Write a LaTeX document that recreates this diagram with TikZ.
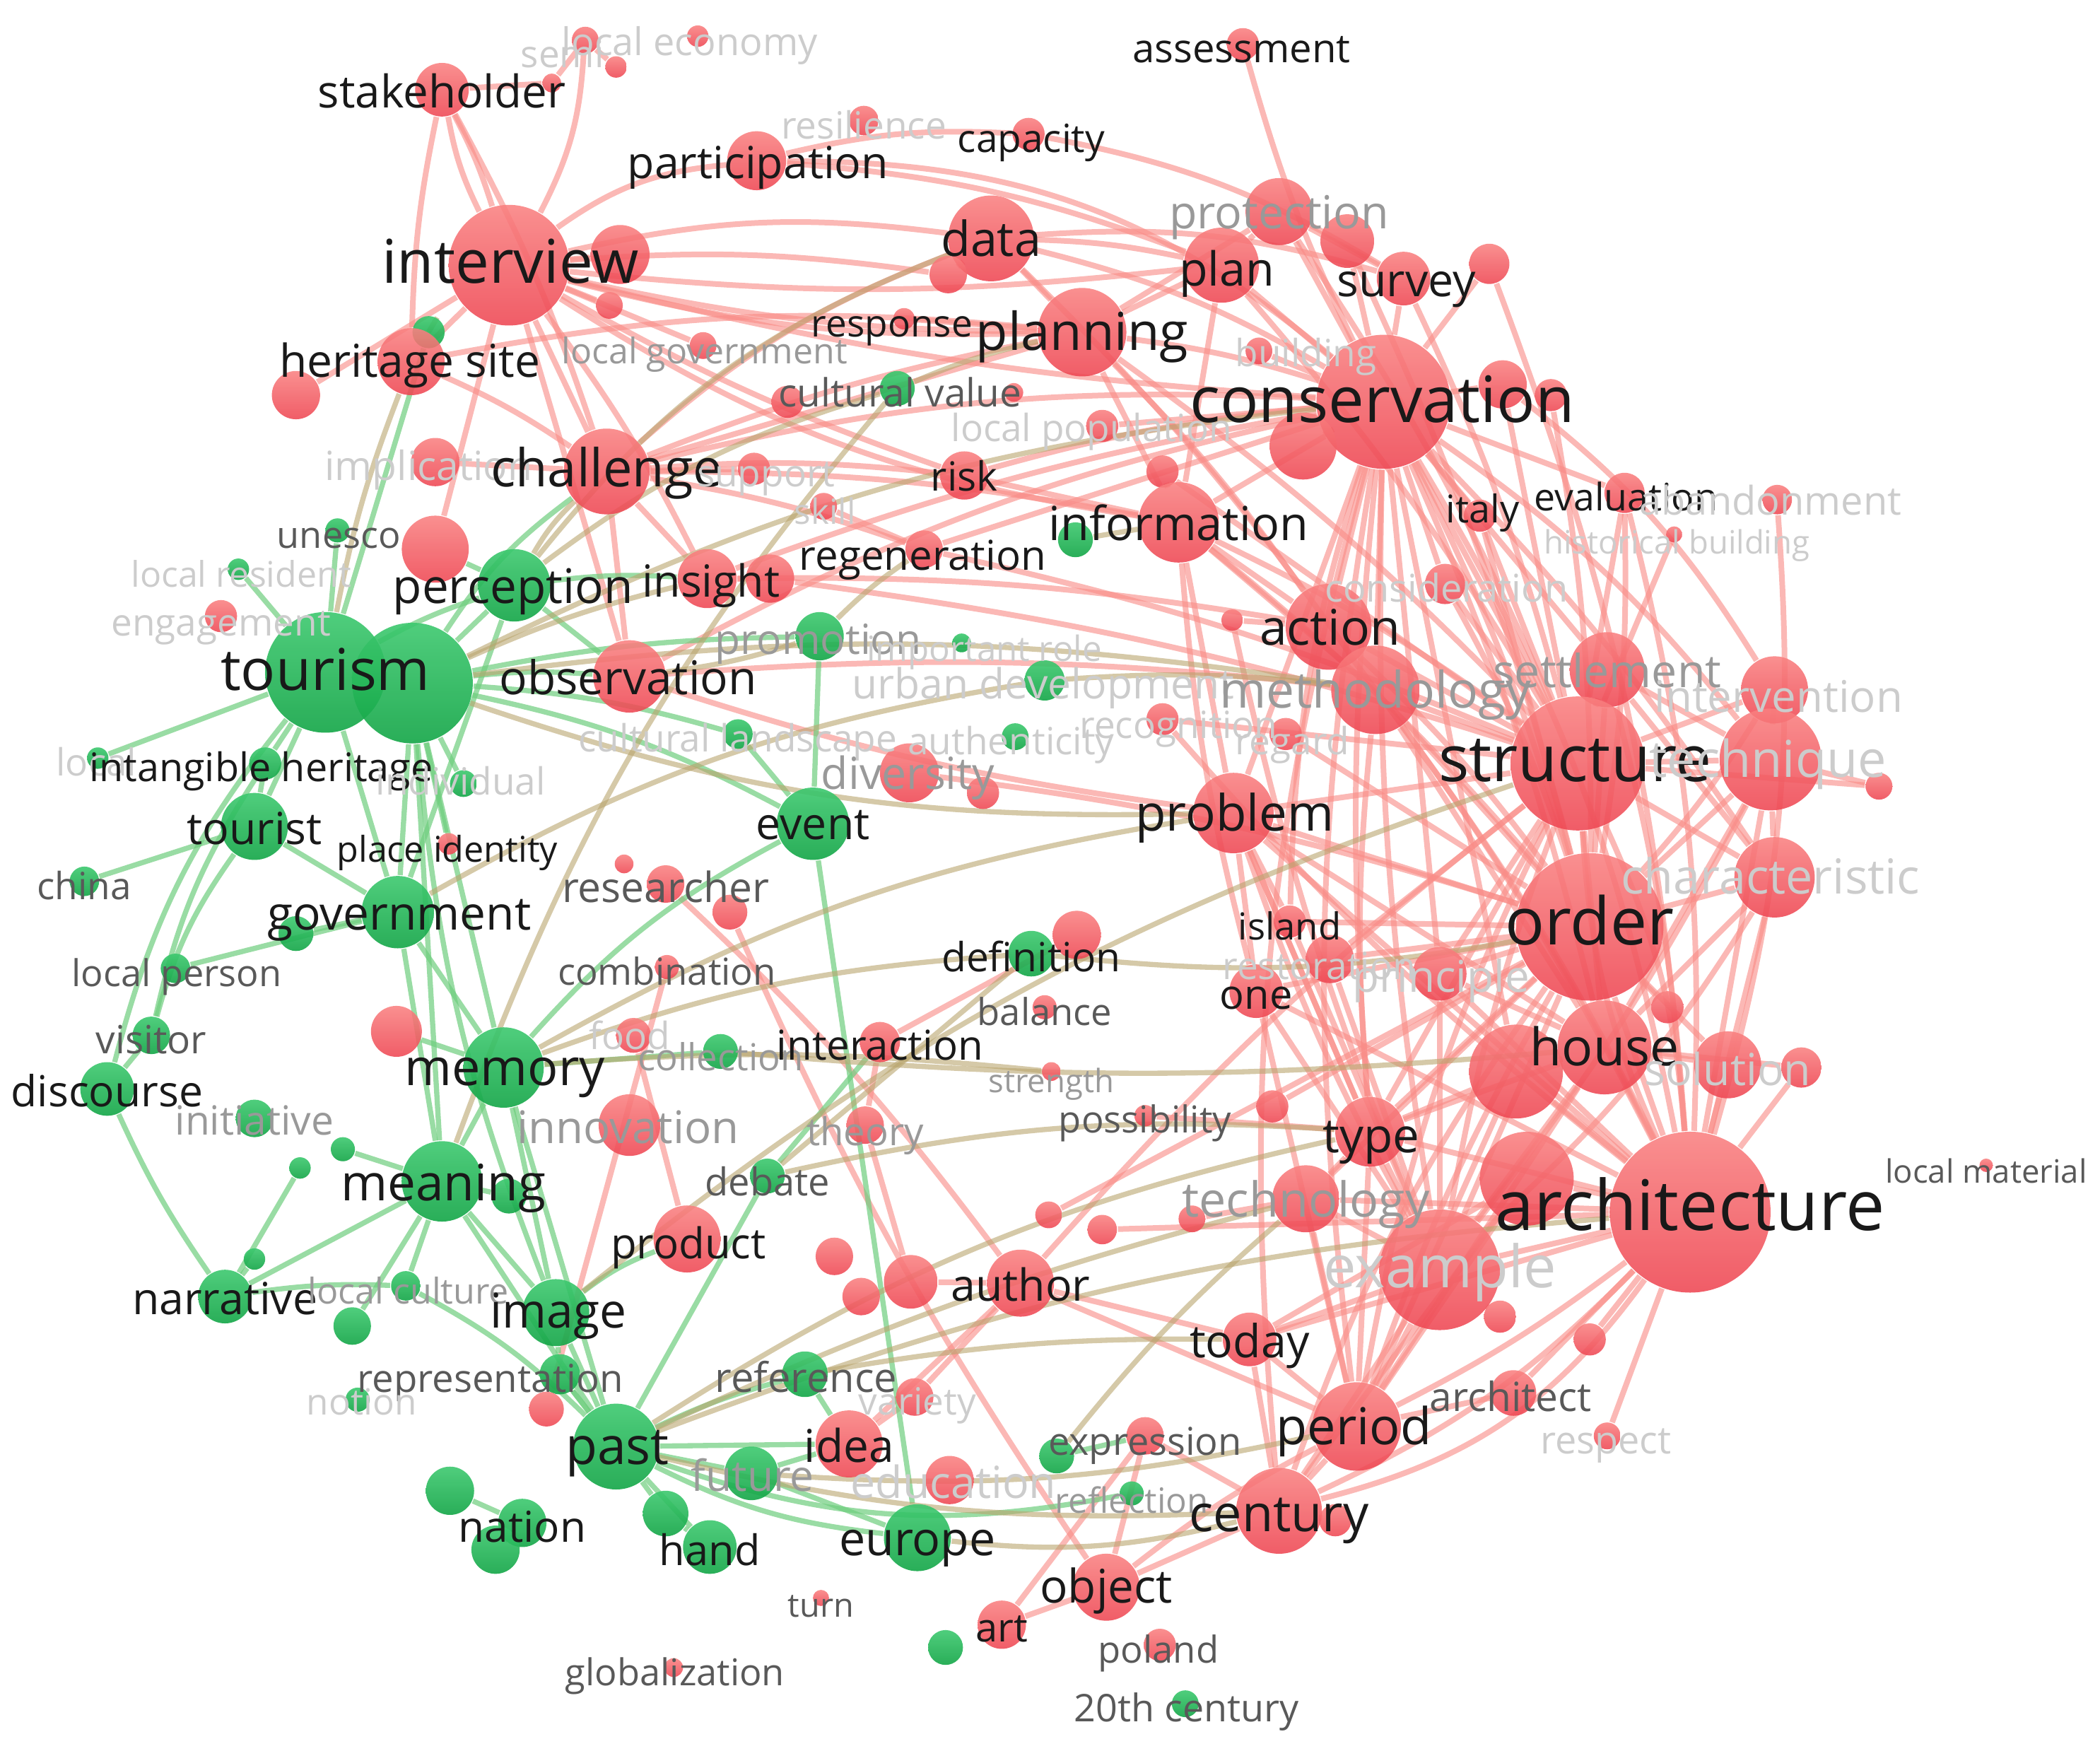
\documentclass[tikz,border=0pt]{standalone}
\usepackage{fontspec}
\setmainfont{Open Sans}
\pgfdeclarelayer{edges}
\pgfdeclarelayer{labels}
\pgfsetlayers{edges,main,labels}
\definecolor{nred}{RGB}{243,88,93}
\definecolor{nredt}{RGB}{249,128,128}
\definecolor{nredb}{RGB}{238,70,82}
\definecolor{ngreen}{RGB}{25,178,80}
\definecolor{ngreent}{RGB}{60,200,110}
\definecolor{ngreenb}{RGB}{18,165,70}
\definecolor{ered}{RGB}{249,140,135}
\definecolor{egreen}{RGB}{110,205,125}
\definecolor{emix}{RGB}{185,165,110}
\tikzset{
  rn/.style={circle,inner sep=0,draw=none,top color=nredt,bottom color=nredb,fill opacity=0.88,minimum size=#1*0.02cm},
  gn/.style={circle,inner sep=0,draw=none,top color=ngreent,bottom color=ngreenb,fill opacity=0.9,minimum size=#1*0.02cm},
  er/.style={draw=ered,line width=1.2pt,opacity=0.62},
  eg/.style={draw=egreen,line width=1.1pt,opacity=0.7},
  em/.style={draw=emix,line width=1.1pt,opacity=0.6},
  lab/.style={inner sep=0,text height=0.7em,text depth=0.16em,yshift=-0.04cm},
  fs/.style={font=\fontsize{#1}{#1}\selectfont},
  lk/.style={lab,text=black!90},
  ld/.style={lab,text=black!65},
  lg/.style={lab,text=black!40},
  lf/.style={lab,text=black!20},
}
\begin{document}
\begin{tikzpicture}[x=0.01cm,y=-0.01cm]
\useasboundingbox (0,0) rectangle (1568,1298);
% ---------------- nodes ----------------
\node[rn=20] (stk) at (330,67) {};
\node[rn=10] (semi) at (437,30) {};
\node[rn=8] (semi2) at (460,50) {};
\node[rn=7] (semi3) at (412,62) {};
\node[rn=8] (leco) at (521,27) {};
\node[rn=45] (intv) at (380,198) {};
\node[rn=22] (intv2) at (463,190) {};
\node[rn=10] (intv3) at (455,228) {};
\node[gn=12] (hsg) at (320,248) {};
\node[rn=25] (hsite) at (307,270) {};
\node[rn=18] (hs2) at (221,295) {};
\node[rn=22] (part) at (565,120) {};
\node[rn=11] (resil) at (645,90) {};
\node[rn=12] (capa) at (768,100) {};
\node[rn=12] (assess) at (928,33) {};
\node[rn=32] (data) at (740,178) {};
\node[rn=14] (data2) at (708,205) {};
\node[rn=25] (prot) at (955,158) {};
\node[rn=20] (prot2) at (1006,180) {};
\node[rn=28] (plan) at (912,198) {};
\node[rn=20] (surv) at (1048,208) {};
\node[rn=15] (surv2) at (1112,197) {};
\node[rn=33] (plng) at (808,248) {};
\node[rn=8] (resp) at (675,238) {};
\node[rn=10] (lgov) at (525,258) {};
\node[rn=10] (bldg) at (940,262) {};
\node[gn=13] (cval) at (670,290) {};
\node[rn=12] (cv2) at (588,300) {};
\node[rn=7] (cv3) at (757,293) {};
\node[rn=12] (lpop) at (823,318) {};
\node[rn=50] (cons) at (1033,300) {};
\node[rn=18] (cons2) at (1122,287) {};
\node[rn=12] (cons3) at (1158,295) {};
\node[rn=25] (cons4) at (973,333) {};
\node[rn=12] (info2) at (868,352) {};
\node[rn=18] (impl) at (325,345) {};
\node[rn=32] (chal) at (453,352) {};
\node[rn=12] (supp) at (563,350) {};
\node[rn=18] (risk) at (720,355) {};
\node[rn=10] (skill) at (615,378) {};
\node[rn=30] (info) at (880,390) {};
\node[gn=13] (infog) at (803,403) {};
\node[rn=12] (italy) at (1105,385) {};
\node[rn=15] (eval) at (1213,368) {};
\node[rn=11] (aband) at (1327,373) {};
\node[rn=6] (hbld) at (1250,399) {};
\node[gn=9] (unesco) at (252,396) {};
\node[gn=8] (lres) at (178,425) {};
\node[rn=12] (engag) at (165,460) {};
\node[rn=25] (persr) at (325,410) {};
\node[gn=27] (perc) at (384,437) {};
\node[rn=22] (ins) at (528,432) {};
\node[rn=18] (ins2) at (575,432) {};
\node[rn=14] (regen) at (690,410) {};
\node[rn=15] (consid) at (1079,436) {};
\node[rn=32] (action) at (992,468) {};
\node[rn=8] (act2) at (920,463) {};
\node[gn=45] (tour1) at (243,502) {};
\node[gn=45] (tour2) at (308,510) {};
\node[rn=27] (obs) at (470,505) {};
\node[gn=18] (promo) at (612,475) {};
\node[gn=7] (irole) at (718,480) {};
\node[gn=15] (udev) at (780,508) {};
\node[rn=33] (meth) at (1027,515) {};
\node[rn=28] (settle) at (1200,500) {};
\node[rn=25] (interv) at (1325,515) {};
\node[rn=12] (recog) at (868,537) {};
\node[rn=12] (regard) at (960,548) {};
\node[gn=11] (clands) at (551,548) {};
\node[gn=10] (auth) at (758,550) {};
\node[gn=8] (local) at (73,566) {};
\node[gn=12] (intang) at (198,570) {};
\node[gn=10] (indiv) at (346,585) {};
\node[rn=22] (divers) at (679,577) {};
\node[rn=12] (div2) at (734,592) {};
\node[rn=50] (struct) at (1178,570) {};
\node[rn=38] (tech) at (1322,567) {};
\node[rn=10] (tech2) at (1403,587) {};
\node[gn=25] (tourist) at (190,617) {};
\node[rn=8] (pid) at (335,630) {};
\node[gn=27] (event) at (607,615) {};
\node[rn=30] (prob) at (921,607) {};
\node[gn=11] (china) at (63,658) {};
\node[rn=14] (res1) at (497,660) {};
\node[rn=7] (res2) at (466,645) {};
\node[rn=13] (res3) at (545,681) {};
\node[gn=27] (gov) at (297,681) {};
\node[gn=13] (gov2) at (221,697) {};
\node[rn=30] (charac) at (1325,655) {};
\node[rn=12] (island) at (963,688) {};
\node[rn=55] (order) at (1187,692) {};
\node[gn=11] (lper) at (131,723) {};
\node[rn=9] (comb) at (498,722) {};
\node[gn=17] (defn) at (770,712) {};
\node[rn=18] (def2) at (804,698) {};
\node[rn=18] (reno) at (993,716) {};
\node[rn=20] (princ) at (1075,727) {};
\node[rn=20] (one) at (938,740) {};
\node[rn=9] (bal) at (780,752) {};
\node[rn=12] (p2) at (1245,752) {};
\node[gn=14] (visit) at (113,773) {};
\node[rn=19] (mr) at (296,770) {};
\node[gn=30] (mem) at (376,797) {};
\node[rn=13] (food) at (473,773) {};
\node[gn=13] (coll) at (538,785) {};
\node[rn=15] (inter) at (657,778) {};
\node[rn=7] (stren) at (785,800) {};
\node[rn=35] (house) at (1198,782) {};
\node[rn=35] (h2) at (1132,800) {};
\node[rn=25] (sol) at (1290,795) {};
\node[rn=15] (h3) at (1345,797) {};
\node[gn=20] (disc) at (80,813) {};
\node[gn=14] (init) at (190,835) {};
\node[rn=23] (innov) at (470,840) {};
\node[rn=14] (theory) at (646,840) {};
\node[rn=8] (poss) at (855,833) {};
\node[rn=12] (pos2) at (950,826) {};
\node[gn=9] (g1) at (256,858) {};
\node[gn=8] (g2) at (224,872) {};
\node[gn=30] (mean) at (330,882) {};
\node[gn=13] (mean2) at (380,893) {};
\node[rn=26] (type) at (1023,845) {};
\node[rn=5] (lmat) at (1483,870) {};
\node[gn=13] (deb) at (573,878) {};
\node[rn=25] (techn) at (975,895) {};
\node[rn=10] (tn2) at (890,910) {};
\node[rn=35] (ar2) at (1140,880) {};
\node[rn=60] (arch) at (1262,905) {};
\node[rn=10] (r1) at (783,907) {};
\node[rn=11] (r2) at (823,918) {};
\node[rn=25] (prod) at (513,925) {};
\node[rn=14] (r3) at (623,938) {};
\node[rn=20] (r4) at (680,957) {};
\node[rn=14] (r5) at (643,968) {};
\node[rn=45] (examp) at (1075,948) {};
\node[rn=12] (ex2) at (1120,983) {};
\node[gn=20] (narr) at (168,968) {};
\node[gn=8] (narr2) at (190,940) {};
\node[gn=11] (lcul) at (303,960) {};
\node[gn=25] (image) at (415,980) {};
\node[rn=25] (author) at (762,958) {};
\node[gn=14] (g3) at (263,990) {};
\node[rn=20] (today) at (933,1000) {};
\node[rn=12] (td2) at (1187,1000) {};
\node[gn=15] (repr) at (418,1026) {};
\node[gn=17] (ref) at (601,1026) {};
\node[gn=9] (notion) at (267,1045) {};
\node[rn=13] (r6) at (408,1052) {};
\node[rn=14] (variety) at (683,1043) {};
\node[rn=17] (archt) at (1130,1040) {};
\node[rn=10] (respect) at (1200,1072) {};
\node[rn=33] (period) at (1013,1065) {};
\node[gn=32] (past) at (460,1080) {};
\node[rn=25] (idea) at (634,1078) {};
\node[gn=20] (future) at (561,1100) {};
\node[rn=18] (educ) at (709,1105) {};
\node[rn=14] (expr) at (855,1072) {};
\node[gn=13] (exg) at (789,1087) {};
\node[gn=9] (refl) at (845,1115) {};
\node[rn=32] (cent) at (955,1128) {};
\node[rn=12] (cent2) at (997,1135) {};
\node[gn=18] (g4) at (336,1113) {};
\node[gn=18] (nation) at (390,1137) {};
\node[gn=18] (g5) at (370,1157) {};
\node[gn=17] (g6) at (497,1130) {};
\node[gn=20] (hand) at (530,1155) {};
\node[gn=25] (europe) at (685,1148) {};
\node[rn=6] (turn) at (613,1193) {};
\node[rn=25] (object) at (826,1185) {};
\node[rn=18] (art) at (748,1213) {};
\node[gn=13] (g7) at (706,1230) {};
\node[rn=12] (poland) at (866,1228) {};
\node[rn=7] (glob) at (503,1245) {};
\node[gn=10] (c20) at (885,1272) {};
% ---------------- edges ----------------
\begin{pgfonlayer}{edges}
\draw[er] (stk) to[bend left=5] (intv);
\draw[er] (stk) to[bend right=8] (intv);
\draw[er] (stk) to[bend right=5] (hsite);
\draw[er] (stk) to[bend left=5] (chal);
\draw[er] (stk) to (semi3);
\draw[er] (semi) to[bend left=12] (intv);
\draw[er] (semi) to (semi2);
\draw[er] (semi3) to (semi);
\draw[er] (intv) to[bend left=15] (part);
\draw[er] (intv) to[bend left=10] (data);
\draw[er] (intv) to[bend left=6] (data2);
\draw[er] (intv) to[bend right=8] (plng);
\draw[er] (intv) to[bend right=6] (plng);
\draw[er] (intv) to[bend right=5] (cons);
\draw[er] (intv) to[bend right=12] (info);
\draw[er] (intv) to (hsite);
\draw[er] (intv) to (hs2);
\draw[er] (intv) to (chal);
\draw[er] (intv) to (obs);
\draw[er] (intv) to[bend left=5] (ins);
\draw[er] (intv) to (intv2);
\draw[er] (intv) to (intv3);
\draw[er] (intv) to[bend right=5] (risk);
\draw[er] (intv) to (lgov);
\draw[er] (intv) to (persr);
\draw[er] (intv) to[bend right=6] (plan);
\draw[er] (part) to[bend left=8] (capa);
\draw[er] (part) to[bend left=20] (cons);
\draw[er] (part) to[bend left=8] (plan);
\draw[er] (capa) to[bend left=10] (surv);
\draw[er] (data) to (plng);
\draw[er] (data) to[bend left=5] (plan);
\draw[er] (data) to[bend left=8] (cons);
\draw[er] (data) to[bend left=5] (meth);
\draw[er] (data) to (data2);
\draw[er] (data) to[bend right=10] (chal);
\draw[er] (data) to[bend left=10] (surv);
\draw[er] (plng) to[bend left=5] (cons);
\draw[er] (plng) to (plan);
\draw[er] (plng) to (info);
\draw[er] (plng) to[bend right=5] (chal);
\draw[er] (plng) to[bend left=5] (action);
\draw[er] (plng) to[bend left=5] (struct);
\draw[er] (plng) to (prot);
\draw[er] (plan) to (cons);
\draw[er] (plan) to (prot);
\draw[er] (plan) to[bend left=5] (struct);
\draw[er] (plan) to (info);
\draw[er] (prot) to (cons);
\draw[er] (prot) to (surv);
\draw[er] (prot) to[bend left=5] (struct);
\draw[er] (prot2) to (cons);
\draw[er] (prot2) to[bend left=5] (order);
\draw[er] (surv) to (cons);
\draw[er] (surv) to[bend left=5] (struct);
\draw[er] (surv2) to (cons);
\draw[er] (surv2) to[bend left=8] (arch);
\draw[er] (assess) to[bend right=5] (cons);
\draw[er] (resp) to (plng);
\draw[er] (bldg) to (cons);
\draw[er] (lpop) to (cons);
\draw[er] (cons) to (struct);
\draw[er] (cons) to[bend left=5] (order);
\draw[er] (cons) to[bend left=10] (arch);
\draw[er] (cons) to[bend left=5] (house);
\draw[er] (cons) to (meth);
\draw[er] (cons) to (action);
\draw[er] (cons) to (info);
\draw[er] (cons) to[bend left=5] (charac);
\draw[er] (cons) to[bend left=8] (tech);
\draw[er] (cons) to (settle);
\draw[er] (cons) to (eval);
\draw[er] (cons) to (italy);
\draw[er] (cons) to (prob);
\draw[er] (cons) to[bend right=5] (type);
\draw[er] (cons) to[bend right=5] (examp);
\draw[er] (cons) to[bend right=8] (period);
\draw[er] (cons) to[bend right=10] (cent);
\draw[er] (cons) to (h2);
\draw[er] (cons) to (cons2);
\draw[er] (cons) to (cons4);
\draw[er] (cons) to (consid);
\draw[er] (cons) to[bend right=8] (island);
\draw[er] (cons) to (princ);
\draw[er] (cons2) to (struct);
\draw[er] (cons3) to[bend left=5] (order);
\draw[er] (cons2) to[bend left=10] (interv);
\draw[er] (eval) to (struct);
\draw[er] (eval) to[bend left=5] (order);
\draw[er] (eval) to[bend left=8] (arch);
\draw[er] (italy) to (order);
\draw[er] (italy) to (struct);
\draw[er] (aband) to[bend left=10] (arch);
\draw[er] (hbld) to (struct);
\draw[er] (chal) to[bend left=8] (cons);
\draw[er] (chal) to (plng);
\draw[er] (chal) to[bend left=5] (risk);
\draw[er] (chal) to[bend left=5] (info);
\draw[er] (chal) to (ins);
\draw[er] (chal) to (obs);
\draw[er] (chal) to[bend left=5] (regen);
\draw[er] (chal) to (supp);
\draw[er] (chal) to (impl);
\draw[er] (hsite) to[bend left=5] (chal);
\draw[er] (hsite) to[bend left=8] (plng);
\draw[er] (risk) to[bend left=5] (cons);
\draw[er] (risk) to (info);
\draw[er] (info) to (action);
\draw[er] (info) to (meth);
\draw[er] (info) to[bend left=5] (struct);
\draw[er] (info) to[bend left=5] (order);
\draw[er] (info) to (prob);
\draw[er] (info) to (info2);
\draw[er] (info) to[bend right=5] (one);
\draw[er] (action) to (meth);
\draw[er] (action) to (struct);
\draw[er] (action) to[bend left=5] (order);
\draw[er] (action) to[bend left=5] (arch);
\draw[er] (action) to (act2);
\draw[er] (meth) to (struct);
\draw[er] (meth) to (order);
\draw[er] (meth) to[bend left=5] (arch);
\draw[er] (meth) to (house);
\draw[er] (meth) to[bend right=5] (type);
\draw[er] (settle) to (struct);
\draw[er] (settle) to (order);
\draw[er] (settle) to (tech);
\draw[er] (settle) to[bend left=5] (arch);
\draw[er] (settle) to (charac);
\draw[er] (interv) to (struct);
\draw[er] (interv) to (tech);
\draw[er] (interv) to[bend left=5] (order);
\draw[er] (consid) to[bend left=5] (order);
\draw[er] (consid) to (struct);
\draw[er] (struct) to (order);
\draw[er] (struct) to[bend left=10] (arch);
\draw[er] (struct) to[bend right=10] (arch);
\draw[er] (struct) to (house);
\draw[er] (struct) to (tech);
\draw[er] (struct) to (charac);
\draw[er] (struct) to (type);
\draw[er] (struct) to[bend right=5] (examp);
\draw[er] (struct) to (prob);
\draw[er] (struct) to[bend right=8] (period);
\draw[er] (struct) to (tech2);
\draw[er] (struct) to (princ);
\draw[er] (struct) to (reno);
\draw[er] (order) to (arch);
\draw[er] (order) to (house);
\draw[er] (order) to (tech);
\draw[er] (order) to (charac);
\draw[er] (order) to (type);
\draw[er] (order) to (examp);
\draw[er] (order) to[bend right=5] (period);
\draw[er] (order) to[bend right=8] (cent);
\draw[er] (order) to (princ);
\draw[er] (order) to (one);
\draw[er] (order) to (island);
\draw[er] (order) to (reno);
\draw[er] (order) to (sol);
\draw[er] (order) to (techn);
\draw[er] (order) to (p2);
\draw[er] (house) to (arch);
\draw[er] (house) to (examp);
\draw[er] (house) to (type);
\draw[er] (house) to (h2);
\draw[er] (house) to (sol);
\draw[er] (house) to (h3);
\draw[er] (house) to (period);
\draw[er] (charac) to (arch);
\draw[er] (charac) to (house);
\draw[er] (charac) to[bend left=8] (examp);
\draw[er] (tech) to (arch);
\draw[er] (tech) to (house);
\draw[er] (tech) to (tech2);
\draw[er] (tech) to (charac);
\draw[er] (tech) to[bend left=5] (examp);
\draw[er] (arch) to (examp);
\draw[er] (arch) to (type);
\draw[er] (arch) to[bend left=5] (period);
\draw[er] (arch) to[bend left=10] (cent);
\draw[er] (arch) to (techn);
\draw[er] (arch) to (today);
\draw[er] (arch) to (archt);
\draw[er] (arch) to (respect);
\draw[er] (arch) to (h2);
\draw[er] (arch) to (ar2);
\draw[er] (arch) to (sol);
\draw[er] (arch) to (h3);
\draw[er] (arch) to (td2);
\draw[er] (arch) to (princ);
\draw[er] (arch) to (one);
\draw[er] (arch) to (prob);
\draw[er] (examp) to (period);
\draw[er] (examp) to (type);
\draw[er] (examp) to (techn);
\draw[er] (examp) to (today);
\draw[er] (examp) to (ex2);
\draw[er] (examp) to (cent);
\draw[er] (type) to (techn);
\draw[er] (type) to (period);
\draw[er] (type) to (h2);
\draw[er] (type) to (prob);
\draw[er] (techn) to (period);
\draw[er] (techn) to (tn2);
\draw[er] (prob) to (order);
\draw[er] (prob) to (island);
\draw[er] (prob) to (house);
\draw[er] (prob) to (type);
\draw[er] (prob) to[bend right=5] (examp);
\draw[er] (prob) to (one);
\draw[er] (island) to (examp);
\draw[er] (one) to (examp);
\draw[er] (one) to (period);
\draw[er] (reno) to (examp);
\draw[er] (princ) to (examp);
\draw[er] (princ) to (house);
\draw[er] (today) to (period);
\draw[er] (today) to (cent);
\draw[er] (today) to (ar2);
\draw[er] (period) to (cent);
\draw[er] (period) to (archt);
\draw[er] (period) to (h2);
\draw[er] (period) to (ar2);
\draw[er] (cent) to (object);
\draw[er] (cent) to (expr);
\draw[er] (cent) to (cent2);
\draw[er] (cent) to (ar2);
\draw[er] (cent) to[bend right=20] (arch);
\draw[er] (expr) to (object);
\draw[er] (expr) to (art);
\draw[er] (object) to[bend left=5] (period);
\draw[er] (pos2) to (order);
\draw[er] (poss) to (type);
\draw[er] (recog) to (struct);
\draw[er] (regard) to (order);
\draw[er] (recog) to[bend right=5] (arch);
\draw[er] (info2) to (struct);
\draw[er] (act2) to[bend right=5] (examp);
\draw[er] (obs) to[bend left=8] (cons);
\draw[er] (obs) to[bend left=5] (meth);
\draw[er] (obs) to[bend right=5] (prob);
\draw[er] (ins) to[bend left=5] (cons);
\draw[er] (ins) to[bend left=5] (action);
\draw[er] (ins) to (ins2);
\draw[er] (ins2) to[bend left=5] (struct);
\draw[er] (regen) to (cons);
\draw[er] (regen) to[bend left=5] (struct);
\draw[er] (skill) to (regen);
\draw[er] (divers) to[bend left=5] (order);
\draw[er] (author) to (period);
\draw[er] (author) to (today);
\draw[er] (author) to[bend left=5] (struct);
\draw[er] (author) to (idea);
\draw[er] (author) to (r4);
\draw[er] (res1) to[bend left=5] (author);
\draw[er] (res3) to[bend right=5] (object);
\draw[er] (inter) to (theory);
\draw[er] (theory) to (r4);
\draw[er] (r1) to (order);
\draw[er] (r2) to (arch);
\draw[er] (r6) to (comb);
\draw[er] (prod) to (food);
\draw[er] (idea) to (variety);
\draw[er] (variety) to (author);
\draw[er] (art) to (object);
\draw[er] (def2) to (inter);
\draw[eg] (tour1) to (tour2);
\draw[eg] (tour2) to (perc);
\draw[eg] (tour1) to[bend left=5] (perc);
\draw[eg] (tour1) to (tourist);
\draw[eg] (tour1) to (intang);
\draw[eg] (tour2) to (gov);
\draw[eg] (tour1) to (gov);
\draw[eg] (tour2) to (mem);
\draw[eg] (tour2) to (mean);
\draw[eg] (tour2) to[bend left=8] (event);
\draw[eg] (tour2) to[bend left=6] (clands);
\draw[eg] (tour1) to (unesco);
\draw[eg] (tour1) to (lres);
\draw[eg] (tour2) to[bend left=5] (promo);
\draw[eg] (tour2) to[bend left=5] (obs);
\draw[eg] (tour2) to (pid);
\draw[eg] (tour2) to (indiv);
\draw[eg] (tour1) to[bend left=5] (tour2);
\draw[eg] (tour2) to[bend right=8] (image);
\draw[eg] (tour2) to[bend left=10] (chal);
\draw[eg] (tour1) to[bend right=12] (disc);
\draw[eg] (tour1) to (local);
\draw[eg] (intang) to[bend right=10] (visit);
\draw[eg] (tourist) to (intang);
\draw[eg] (tourist) to (gov);
\draw[eg] (tourist) to[bend right=10] (visit);
\draw[eg] (gov) to (mem);
\draw[eg] (gov) to (lper);
\draw[eg] (gov) to (mean);
\draw[eg] (gov) to (gov2);
\draw[eg] (gov) to (perc);
\draw[eg] (mem) to (mean);
\draw[eg] (mem) to (image);
\draw[eg] (mem) to (past);
\draw[eg] (mem) to (coll);
\draw[eg] (mem) to (mr);
\draw[eg] (mem) to[bend left=10] (event);
\draw[eg] (mean) to (image);
\draw[eg] (mean) to (past);
\draw[eg] (mean) to (narr);
\draw[eg] (mean) to (lcul);
\draw[eg] (mean) to (mean2);
\draw[eg] (mean) to (g3);
\draw[eg] (mean) to (g1);
\draw[eg] (image) to (past);
\draw[eg] (image) to (repr);
\draw[eg] (image) to[bend left=8] (prod);
\draw[eg] (past) to (future);
\draw[eg] (past) to[bend right=10] (europe);
\draw[eg] (past) to (hand);
\draw[eg] (past) to[bend left=5] (ref);
\draw[eg] (past) to (idea);
\draw[eg] (past) to (repr);
\draw[eg] (past) to[bend right=15] (refl);
\draw[eg] (past) to (deb);
\draw[eg] (past) to (g6);
\draw[eg] (future) to (europe);
\draw[eg] (future) to (idea);
\draw[eg] (europe) to (event);
\draw[eg] (event) to (promo);
\draw[eg] (event) to (clands);
\draw[eg] (disc) to[bend right=5] (narr);
\draw[eg] (disc) to (visit);
\draw[eg] (narr) to[bend left=5] (lcul);
\draw[eg] (narr) to (narr2);
\draw[eg] (lcul) to[bend left=8] (past);
\draw[eg] (repr) to (past);
\draw[eg] (perc) to (obs);
\draw[eg] (perc) to (persr);
\draw[eg] (perc) to[bend left=5] (ins);
\draw[eg] (hsg) to (tour1);
\draw[eg] (ref) to (idea);
\draw[eg] (deb) to (inter);
\draw[eg] (exg) to (expr);
\draw[eg] (g4) to (nation);
\draw[eg] (nation) to (g5);
\draw[eg] (g6) to (hand);
\draw[eg] (narr) to (g2);
\draw[eg] (tourist) to (china);
\draw[em] (tour2) to[bend left=10] (cons);
\draw[em] (tour2) to[bend left=8] (meth);
\draw[em] (tour1) to[bend left=5] (hsite);
\draw[em] (tour2) to[bend left=5] (ins);
\draw[em] (tour2) to[bend right=10] (prob);
\draw[em] (perc) to[bend left=8] (chal);
\draw[em] (perc) to[bend left=10] (cval);
\draw[em] (perc) to[bend left=15] (data);
\draw[em] (mem) to[bend left=8] (defn);
\draw[em] (mem) to[bend left=10] (prob);
\draw[em] (mem) to[bend left=5] (stren);
\draw[em] (mean) to[bend left=10] (cval);
\draw[em] (past) to[bend left=8] (arch);
\draw[em] (past) to[bend right=8] (cent);
\draw[em] (past) to[bend left=10] (type);
\draw[em] (past) to[bend left=5] (techn);
\draw[em] (image) to[bend left=10] (struct);
\draw[em] (europe) to[bend right=10] (cent);
\draw[em] (future) to[bend right=8] (period);
\draw[em] (defn) to[bend right=8] (order);
\draw[em] (defn) to (deb);
\draw[em] (coll) to[bend right=5] (house);
\draw[em] (ref) to[bend left=5] (today);
\draw[em] (deb) to[bend left=8] (type);
\draw[em] (gov) to[bend left=10] (udev);
\draw[em] (obs) to[bend right=5] (promo);
\draw[em] (promo) to[bend left=5] (regen);
\draw[em] (cval) to[bend left=5] (plng);
\draw[em] (hsg) to (hsite);
\draw[em] (udev) to[bend left=5] (meth);
\draw[em] (infog) to (info);
\draw[em] (exg) to[bend left=5] (techn);
\end{pgfonlayer}
% ---------------- labels ----------------
\begin{pgfonlayer}{labels}
\node[lk,fs=9.56pt] (l-stk) at (330,67) {stakeholder};
\node[lf,fs=7.97pt] (l-semi) at (420,37) {semi};
\node[lf,fs=8.11pt] (l-leco) at (515,28) {local economy};
\node[lk,fs=12.8pt] (l-intv) at (381,198) {interview};
\node[lk,fs=9.39pt] (l-part) at (566,120) {participation};
\node[lf,fs=7.97pt] (l-resil) at (645,90) {resilience};
\node[lk,fs=8.25pt] (l-capa) at (770,100) {capacity};
\node[lk,fs=8.45pt] (l-assess) at (927,33) {assessment};
\node[lk,fs=10.24pt] (l-data) at (740,178) {data};
\node[lg,fs=9.67pt] (l-prot) at (955,157) {protection};
\node[lk,fs=9.96pt] (l-plan) at (916,200) {plan};
\node[lk,fs=9.67pt] (l-surv) at (1050,208) {survey};
\node[lk,fs=11.1pt] (l-plng) at (808,248) {planning};
\node[lk,fs=7.97pt] (l-resp) at (666,238) {response};
\node[lg,fs=7.51pt] (l-lgov) at (526,258) {local government};
\node[lf,fs=7.97pt] (l-bldg) at (975,260) {building};
\node[lk,fs=9.62pt] (l-hsite) at (306,268) {heritage site};
\node[ld,fs=8.25pt] (l-cval) at (672,290) {cultural value};
\node[lf,fs=7.97pt] (l-lpop) at (815,316) {local population};
\node[lk,fs=13.57pt] (l-cons) at (1032,302) {conservation};
\node[lf,fs=8.54pt] (l-impl) at (320,345) {implication};
\node[lk,fs=11.1pt] (l-chal) at (453,350) {challenge};
\node[lf,fs=7.97pt] (l-supp) at (572,350) {support};
\node[lk,fs=8.54pt] (l-risk) at (720,353) {risk};
\node[lf,fs=7.4pt] (l-skill) at (616,378) {skill};
\node[lk,fs=9.96pt] (l-info) at (880,390) {information};
\node[lk,fs=8.11pt] (l-italy) at (1107,377) {italy};
\node[lk,fs=8.05pt] (l-eval) at (1214,368) {evaluation};
\node[lf,fs=8.39pt] (l-aband) at (1322,371) {abandonment};
\node[lf,fs=6.83pt] (l-hbld) at (1252,400) {historical building};
\node[ld,fs=7.85pt] (l-unesco) at (253,396) {unesco};
\node[lf,fs=7.51pt] (l-lres) at (180,425) {local resident};
\node[lf,fs=7.97pt] (l-engag) at (165,461) {engagement};
\node[lk,fs=10.13pt] (l-perc) at (383,437) {perception};
\node[lk,fs=9.39pt] (l-ins) at (531,432) {insight};
\node[lk,fs=8.73pt] (l-regen) at (689,412) {regeneration};
\node[lf,fs=8.11pt] (l-consid) at (1080,436) {consideration};
\node[lk,fs=10.44pt] (l-action) at (993,468) {action};
\node[lk,fs=12.23pt] (l-tour) at (243,502) {tourism};
\node[lk,fs=9.87pt] (l-obs) at (469,505) {observation};
\node[lg,fs=8.82pt] (l-promo) at (611,475) {promotion};
\node[lf,fs=7.4pt] (l-irole) at (735,480) {important role};
\node[lf,fs=8.82pt] (l-udev) at (779,508) {urban development};
\node[lg,fs=10.7pt] (l-meth) at (1027,515) {methodology};
\node[lg,fs=9.67pt] (l-settle) at (1200,500) {settlement};
\node[lf,fs=9.27pt] (l-interv) at (1328,518) {intervention};
\node[lf,fs=7.97pt] (l-clands) at (551,548) {cultural landscape};
\node[lf,fs=7.97pt] (l-auth) at (755,550) {authenticity};
\node[lf,fs=7.97pt] (l-recog) at (880,538) {recognition};
\node[lf,fs=7.97pt] (l-regard) at (965,550) {regard};
\node[lf,fs=7.97pt] (l-local) at (72,566) {local};
\node[lk,fs=8.36pt] (l-intang) at (195,570) {intangible heritage};
\node[lf,fs=7.97pt] (l-indiv) at (344,580) {individual};
\node[lg,fs=9.39pt] (l-divers) at (678,576) {diversity};
\node[lk,fs=13.66pt] (l-struct) at (1176,570) {structure};
\node[lf,fs=10.8pt] (l-tech) at (1320,567) {technique};
\node[lk,fs=9.39pt] (l-tourist) at (190,617) {tourist};
\node[lk,fs=7.54pt] (l-pid) at (334,630) {place identity};
\node[lk,fs=9.39pt] (l-event) at (607,613) {event};
\node[lk,fs=10.64pt] (l-prob) at (922,607) {problem};
\node[ld,fs=7.97pt] (l-china) at (63,658) {china};
\node[ld,fs=8.82pt] (l-res) at (497,660) {researcher};
\node[lf,fs=10.24pt] (l-charac) at (1322,654) {characteristic};
\node[lk,fs=9.87pt] (l-gov) at (298,681) {government};
\node[lk,fs=7.9pt] (l-island) at (963,688) {island};
\node[lk,fs=13.94pt] (l-order) at (1187,692) {order};
\node[ld,fs=7.85pt] (l-lper) at (132,723) {local person};
\node[ld,fs=7.9pt] (l-comb) at (498,722) {combination};
\node[lk,fs=8.54pt] (l-defn) at (770,712) {definition};
\node[lf,fs=7.97pt] (l-reno) at (985,718) {restoration};
\node[lf,fs=9.3pt] (l-princ) at (1076,727) {principle};
\node[lk,fs=8.68pt] (l-one) at (938,740) {one};
\node[ld,fs=7.88pt] (l-bal) at (780,752) {balance};
\node[ld,fs=8.25pt] (l-visit) at (113,773) {visitor};
\node[lf,fs=7.97pt] (l-food) at (470,770) {food};
\node[lk,fs=10.8pt] (l-mem) at (377,797) {memory};
\node[lg,fs=7.9pt] (l-coll) at (538,786) {collection};
\node[lk,fs=8.73pt] (l-inter) at (657,778) {interaction};
\node[lg,fs=6.83pt] (l-stren) at (785,802) {strength};
\node[lk,fs=11pt] (l-house) at (1198,782) {house};
\node[lf,fs=9.39pt] (l-sol) at (1290,797) {solution};
\node[lk,fs=9.1pt] (l-disc) at (80,813) {discourse};
\node[lg,fs=8.54pt] (l-init) at (190,834) {initiative};
\node[lg,fs=9.53pt] (l-innov) at (469,840) {innovation};
\node[lg,fs=8.17pt] (l-theory) at (646,842) {theory};
\node[ld,fs=7.88pt] (l-poss) at (855,832) {possibility};
\node[lk,fs=10.13pt] (l-type) at (1024,847) {type};
\node[lk,fs=10.67pt] (l-mean) at (331,883) {meaning};
\node[ld,fs=8.14pt] (l-deb) at (573,879) {debate};
\node[lg,fs=10.24pt] (l-techn) at (975,895) {technology};
\node[lk,fs=14.8pt] (l-arch) at (1262,905) {architecture};
\node[ld,fs=6.83pt] (l-lmat) at (1483,870) {local material};
\node[lk,fs=9pt] (l-prod) at (514,926) {product};
\node[lf,fs=12.43pt] (l-examp) at (1075,948) {example};
\node[lk,fs=9.39pt] (l-narr) at (168,968) {narrative};
\node[lg,fs=7.54pt] (l-lcul) at (305,960) {local culture};
\node[lk,fs=10.16pt] (l-image) at (417,978) {image};
\node[lk,fs=9.39pt] (l-author) at (762,958) {author};
\node[lk,fs=9.67pt] (l-today) at (933,1000) {today};
\node[ld,fs=8.19pt] (l-repr) at (366,1026) {representation};
\node[ld,fs=8.68pt] (l-ref) at (602,1026) {reference};
\node[lf,fs=7.68pt] (l-notion) at (270,1043) {notion};
\node[lf,fs=7.97pt] (l-variety) at (685,1043) {variety};
\node[ld,fs=8.54pt] (l-archt) at (1128,1040) {architect};
\node[lf,fs=8.11pt] (l-respect) at (1199,1072) {respect};
\node[lk,fs=10.8pt] (l-period) at (1011,1065) {period};
\node[lk,fs=11pt] (l-past) at (461,1080) {past};
\node[lk,fs=9.59pt] (l-idea) at (634,1078) {idea};
\node[lg,fs=9.1pt] (l-future) at (562,1100) {future};
\node[lf,fs=9.39pt] (l-educ) at (712,1105) {education};
\node[ld,fs=8.14pt] (l-expr) at (855,1073) {expression};
\node[lg,fs=7.4pt] (l-refl) at (845,1116) {reflection};
\node[lk,fs=10.8pt] (l-cent) at (955,1130) {century};
\node[lk,fs=9.05pt] (l-nation) at (390,1138) {nation};
\node[lk,fs=8.93pt] (l-hand) at (530,1155) {hand};
\node[lk,fs=9.96pt] (l-europe) at (685,1148) {europe};
\node[ld,fs=7.03pt] (l-turn) at (613,1194) {turn};
\node[lk,fs=9.84pt] (l-object) at (826,1183) {object};
\node[lk,fs=8.39pt] (l-art) at (748,1212) {art};
\node[ld,fs=7.88pt] (l-poland) at (865,1228) {poland};
\node[ld,fs=7.85pt] (l-glob) at (504,1245) {globalization};
\node[ld,fs=8.08pt] (l-c20) at (886,1272) {20th century};
\end{pgfonlayer}
\end{tikzpicture}
\end{document}
